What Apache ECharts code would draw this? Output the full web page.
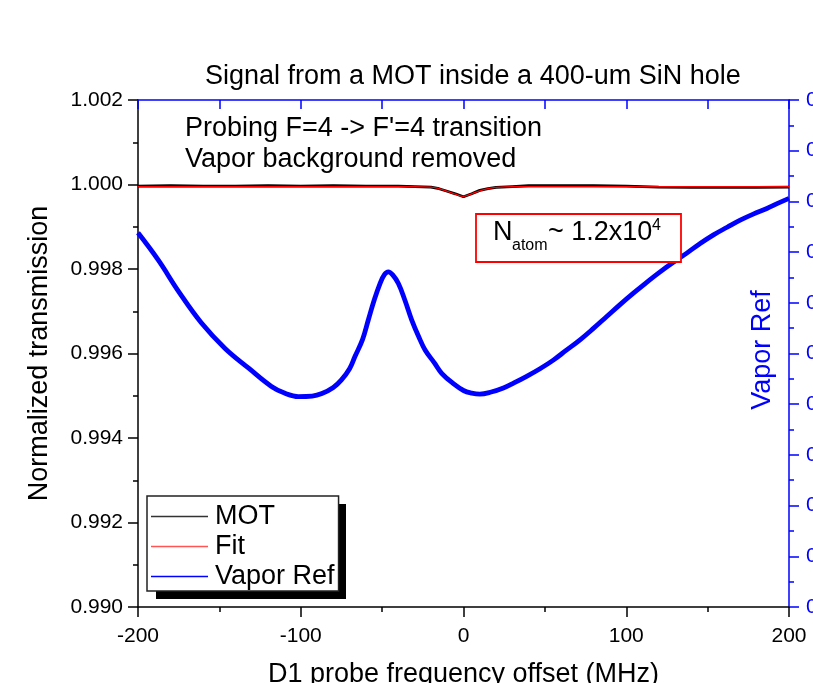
<!DOCTYPE html>
<html>
<head>
<meta charset="utf-8">
<script src="https://cdn.jsdelivr.net/npm/echarts@6/dist/echarts.min.js"></script>
<style>html,body{margin:0;padding:0;background:#fff;overflow:hidden}#c{width:813px;height:683px}</style>
</head>
<body>
<div id="c"></div>
<script>
// ---- data ----
const motX   = [-200,-180,-160,-140,-120,-100,-80,-60,-40,-30,-20,-15,-10,-5,0,5,10,15,20,30,40,60,80,100,120,140,160,180,200];
const motY   = [0.99996,0.99997,0.99996,0.99996,0.99997,0.99996,0.99997,0.99996,0.99996,0.99995,0.99994,0.99990,0.99984,0.99978,0.99971,0.99978,0.99986,0.99990,0.99993,0.99995,0.99997,0.99997,0.99997,0.99996,0.99994,0.99993,0.99993,0.99993,0.99994];
const fitX   = [-200,-150,-100,-60,-40,-30,-20,-15,-10,-5,0,5,10,15,20,30,40,60,100,150,200];
const fitY   = [0.99995,0.99995,0.99995,0.99995,0.99995,0.99995,0.99994,0.99990,0.99984,0.99977,0.99972,0.99978,0.99985,0.99990,0.99993,0.99995,0.99995,0.99995,0.99995,0.99995,0.99995];
const vapX   = [-200,-187.5,-175,-161,-146.5,-132,-118,-110,-101.5,-93,-87,-80,-75,-70,-66.7,-62,-58.5,-55,-51.3,-48.5,-46.2,-43.5,-40,-36,-31.8,-27.5,-23.6,-18,-13.4,-6,0,5,10,17,24.5,31,38.8,47,55.2,63,71.6,80,88,96,104.4,112,120.8,129,137.2,145,153.6,162,170,178,186.4,193,200];
const vapY   = [0.9538,0.9484,0.9422,0.9360,0.9310,0.9271,0.9235,0.9222,0.9215,0.9216,0.9221,0.9233,0.9248,0.9270,0.9294,0.9328,0.9366,0.9404,0.9438,0.9456,0.9461,0.9455,0.9438,0.9405,0.9366,0.9333,0.9307,0.9282,0.9261,0.9240,0.9227,0.9222,0.9220,0.9224,0.9232,0.9242,0.9255,0.9270,0.9287,0.9306,0.9327,0.9350,0.9373,0.9396,0.9419,0.9439,0.9461,0.9480,0.9498,0.9516,0.9534,0.9549,0.9563,0.9575,0.9586,0.9596,0.9606];
const xTicks = {min:-200, max:200, interval:100};
const topTicks = {min:-200, max:200, interval:50};
const yTicks = {min:0.990, max:1.002, interval:0.002};
const rTicks = {min:0.88, max:0.98, interval:0.01};

const zip = (a,b) => a.map((v,i)=>[v,b[i]]);
const FONT = 'Liberation Sans, Arial, sans-serif';
const chart = echarts.init(document.getElementById('c'), null, {renderer:'canvas', width:813, height:683});
chart.setOption({
  animation:false,
  backgroundColor:'#fff',
  title:{text:'Signal from a MOT inside a 400-um SiN hole', left:205, top:63, padding:0,
    textStyle:{fontFamily:FONT, fontSize:27, fontWeight:'normal', color:'#000'}},
  grid:{left:138, right:24, top:100, bottom:76, containLabel:false, outerBoundsMode:'none'},
  legend:{
    orient:'vertical', left:147, top:496, z:20, data:['MOT','Fit','Vapor Ref'],
    icon:'rect', itemWidth:57, itemHeight:1.5, itemGap:1,
    padding:[6,4,0,4],
    backgroundColor:'#fff', borderColor:'#222', borderWidth:1.5,
    textStyle:{fontFamily:FONT, fontSize:27, lineHeight:29, color:'#000', padding:[0,0,0,2]}
  },
  xAxis:[
    {type:'value', position:'bottom', min:xTicks.min, max:xTicks.max, interval:xTicks.interval,
     name:'D1 probe frequency offset (MHz)', nameLocation:'middle', nameGap:54,
     nameTextStyle:{fontFamily:FONT, fontSize:27, color:'#000'},
     axisLine:{onZero:false, lineStyle:{color:'#000', width:1.5}},
     axisTick:{inside:false, length:10, lineStyle:{color:'#000', width:1.5}},
     minorTick:{show:true, splitNumber:2, length:5, lineStyle:{color:'#000', width:1.5}},
     splitLine:{show:false},
     axisLabel:{fontFamily:FONT, fontSize:21, color:'#000', margin:19}},
    {type:'value', position:'top', min:topTicks.min, max:topTicks.max, interval:topTicks.interval,
     axisLine:{onZero:false, lineStyle:{color:'#0000ff', width:1.5}},
     axisTick:{inside:true, length:9, lineStyle:{color:'#0000ff', width:1.5}},
     axisLabel:{show:false}, splitLine:{show:false}}
  ],
  yAxis:[
    {type:'value', position:'left', min:yTicks.min, max:yTicks.max, interval:yTicks.interval,
     name:'Normalized transmission', nameLocation:'middle', nameGap:85, nameRotate:90,
     nameTextStyle:{fontFamily:FONT, fontSize:27, color:'#000'},
     axisLine:{show:true, onZero:false, lineStyle:{color:'#000', width:1.5}},
     axisTick:{show:true, inside:false, length:10, lineStyle:{color:'#000', width:1.5}},
     minorTick:{show:true, splitNumber:2, length:5, lineStyle:{color:'#000', width:1.5}},
     splitLine:{show:false},
     axisLabel:{fontFamily:FONT, fontSize:21, color:'#000', margin:15, formatter:v=>v.toFixed(3)}},
    {type:'value', position:'right', min:rTicks.min, max:rTicks.max, interval:rTicks.interval,
     axisLine:{show:true, onZero:false, lineStyle:{color:'#0000ff', width:1.5}},
     axisTick:{show:true, inside:false, length:10, lineStyle:{color:'#0000ff', width:1.5}},
     minorTick:{show:true, splitNumber:2, length:5, lineStyle:{color:'#0000ff', width:1.5}},
     splitLine:{show:false},
     axisLabel:{fontFamily:FONT, fontSize:21, color:'#0000ff', margin:17, formatter:v=>v.toFixed(2)}}
  ],
  series:[
    {name:'MOT', type:'line', xAxisIndex:0, yAxisIndex:0, data:zip(motX,motY), showSymbol:false,
     lineStyle:{color:'#000', width:2.8}, itemStyle:{color:'#333'}, z:3},
    {name:'Fit', type:'line', xAxisIndex:0, yAxisIndex:0, data:zip(fitX,fitY), showSymbol:false, smooth:0.4,
     lineStyle:{color:'#ff0000', width:1.3}, itemStyle:{color:'#ff5555'}, z:4},
    {name:'Vapor Ref', type:'line', xAxisIndex:0, yAxisIndex:1, data:zip(vapX,vapY), showSymbol:false, smooth:0.4,
     lineStyle:{color:'#0000ff', width:4.8}, itemStyle:{color:'#0000ff'}, z:2}
  ],
  graphic:[
    {type:'rect', shape:{x:156, y:504, width:190, height:95}, style:{fill:'#000'}, z:15},
    {type:'text', left:185, top:115, style:{text:'Probing F=4 -> F\'=4 transition', font:'27px '+FONT, fill:'#000'}},
    {type:'text', left:185, top:146, style:{text:'Vapor background removed', font:'27px '+FONT, fill:'#000'}},
    {type:'rect', shape:{x:476, y:214, width:205, height:48}, style:{fill:'#fff', stroke:'#ff0000', lineWidth:1.8}, z:10},
    {type:'text', x:493, y:219.5, z:11, style:{text:'N', font:'27px '+FONT, fill:'#000'}},
    {type:'text', x:512, y:238, z:11, style:{text:'atom', font:'16px '+FONT, fill:'#000'}},
    {type:'text', x:548, y:219.5, z:11, style:{text:'~ 1.2x10', font:'27px '+FONT, fill:'#000'}},
    {type:'text', x:652, y:217.5, z:11, style:{text:'4', font:'16px '+FONT, fill:'#000'}},
    {type:'text', x:763, y:350, rotation:Math.PI/2, z:11, style:{text:'Vapor Ref', font:'27px '+FONT, fill:'#0000ff', align:'center', verticalAlign:'middle'}}
  ]
});
</script>
</body>
</html>
